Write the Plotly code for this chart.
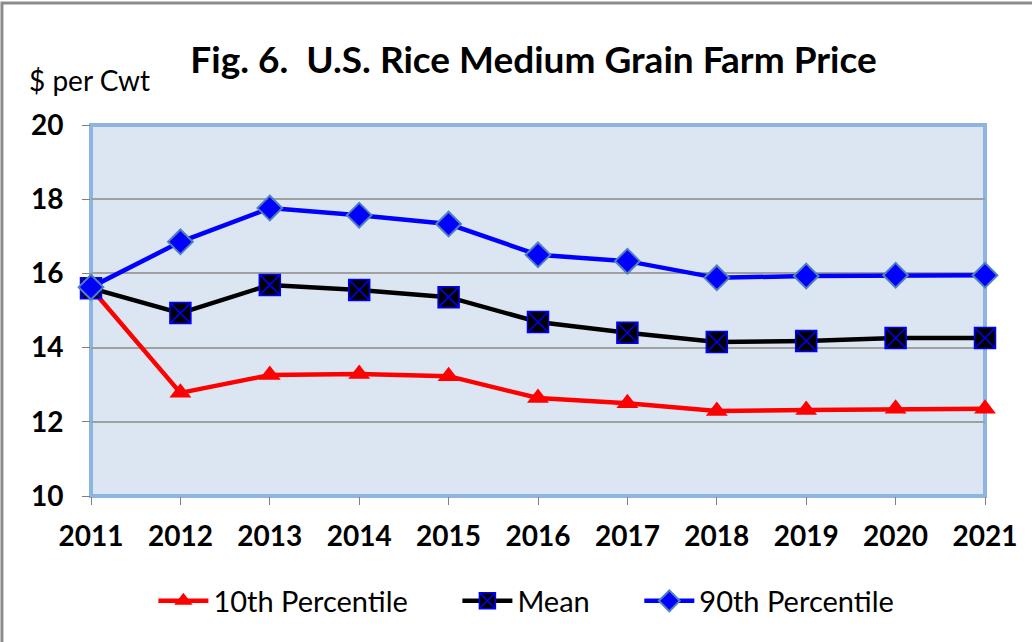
import plotly.graph_objects as go

years = [2011, 2012, 2013, 2014, 2015, 2016, 2017, 2018, 2019, 2020, 2021]
p10 = [15.6, 12.78, 13.26, 13.29, 13.23, 12.64, 12.50, 12.29, 12.32, 12.35, 12.35]
mean = [15.6, 14.93, 15.69, 15.55, 15.36, 14.69, 14.40, 14.15, 14.18, 14.26, 14.26]
p90 = [15.63, 16.85, 17.76, 17.57, 17.33, 16.50, 16.33, 15.88, 15.93, 15.95, 15.95]
yticks = [10, 12, 14, 16, 18, 20]

FONT = "Lato"
PAD = "\u00a0" * 6

fig = go.Figure()
fig.add_trace(go.Scatter(
    x=years, y=p10, name="10th Percentile" + PAD, mode="lines+markers",
    line=dict(color="#FF0000", width=4.5),
    marker=dict(symbol="triangle-up", size=19, color="#FF0000"),
    cliponaxis=False))
fig.add_trace(go.Scatter(
    x=years, y=mean, name="Mean" + PAD, mode="lines+markers",
    line=dict(color="#000000", width=4.5),
    marker=dict(symbol="square-x", size=21, color="#000000",
                line=dict(color="#0000FF", width=1.5)),
    cliponaxis=False))
fig.add_trace(go.Scatter(
    x=years, y=p90, name="90th Percentile", mode="lines+markers",
    line=dict(color="#0000FF", width=4.5),
    marker=dict(symbol="diamond", size=19, color="#0000FF",
                line=dict(color="#4F81BD", width=2)),
    cliponaxis=False))

fig.update_layout(
    width=1032, height=642,
    margin=dict(l=91, r=47, t=125, b=146),
    paper_bgcolor="white",
    plot_bgcolor="#DCE6F2",
    font=dict(family=FONT, color="#000000"),
    title=dict(text="<b>Fig. 6.  U.S. Rice Medium Grain Farm Price</b>",
               x=0.517, xanchor="center", y=0.9065, yanchor="middle",
               font=dict(size=37, family=FONT)),
    showlegend=True,
    legend=dict(orientation="h", x=0.487, xanchor="center", y=-0.283,
                yanchor="middle", font=dict(size=29, family=FONT),
                itemwidth=50, tracegroupgap=0, bgcolor="rgba(0,0,0,0)"),
    xaxis=dict(range=[2011, 2021], tickmode="array", tickvals=years,
               ticktext=[str(y) for y in years],
               tickfont=dict(size=28, family=FONT, weight="bold"),
               ticks="outside", ticklen=8, tickcolor="#808080",
               showgrid=False, zeroline=False, showline=False,
               fixedrange=True, automargin=False, ticklabelstandoff=7),
    yaxis=dict(range=[10, 20], tickmode="array", tickvals=yticks,
               tickfont=dict(size=28, family=FONT, weight="bold"),
               ticks="outside", ticklen=8, tickcolor="#808080",
               showgrid=True, gridcolor="#A0A0A0", gridwidth=1.5,
               zeroline=False, showline=False, fixedrange=True,
               automargin=False, ticklabelstandoff=13),
    annotations=[dict(text="$ per Cwt", xref="paper", yref="paper",
                      x=-0.0716, y=1.121, xanchor="left", yanchor="middle",
                      showarrow=False, font=dict(size=28, family=FONT))],
    shapes=[
        dict(type="rect", xref="paper", yref="paper", x0=0, x1=1, y0=0, y1=1,
             line=dict(color="#8DB4E2", width=4), layer="below"),
        dict(type="rect", xref="paper", yref="paper",
             x0=-0.0996, x1=1.2, y0=-0.6, y1=1.329,
             line=dict(color="#8C8C8C", width=3), layer="below"),
    ],
)

fig.write_html("out.html", config={"displayModeBar": False},
               post_script="document.body.style.margin='0';")
